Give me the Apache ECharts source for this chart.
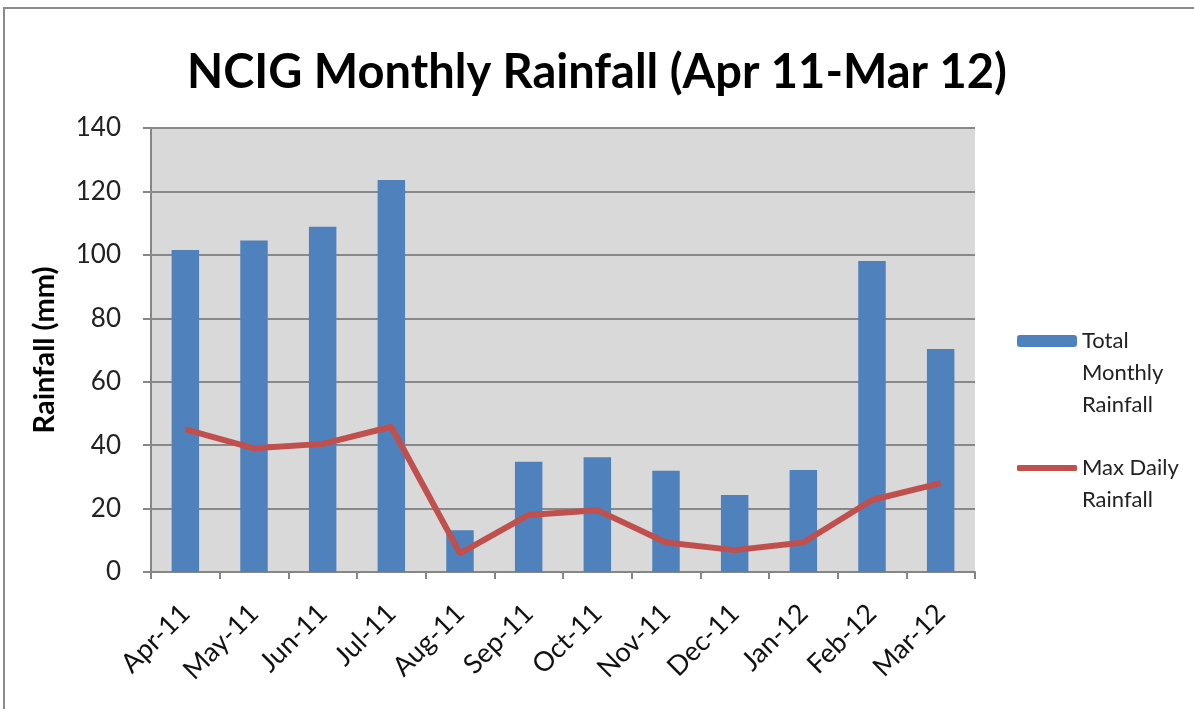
<!DOCTYPE html>
<html lang="en">
<head>
    <meta charset="UTF-8">
    <title>NCIG Monthly Rainfall</title>
    <style>
        * {
            margin: 0;
            padding: 0;
        }
        html, body {
            background: #fff;
        }
        .mychart {
            width: 1194px;
            height: 709px;
        }
    </style>
</head>
<body>
    <div class="mychart"></div>
</body>
<script src="https://cdn.jsdelivr.net/npm/echarts@6/dist/echarts.min.js"></script>
<script>
    // data
    const months = ['Apr-11', 'May-11', 'Jun-11', 'Jul-11', 'Aug-11', 'Sep-11',
        'Oct-11', 'Nov-11', 'Dec-11', 'Jan-12', 'Feb-12', 'Mar-12']
    const totalMonthly = [101.5, 104.5, 108.9, 123.6, 13.2, 34.8, 36.2, 31.9, 24.3, 32.2, 98.1, 70.3]
    const maxDaily = [45, 39, 40.4, 45.8, 5.9, 18, 19.5, 9.3, 6.9, 9.3, 22.7, 28]
    const yTicks = [0, 20, 40, 60, 80, 100, 120, 140]

    const fontFamily = 'Lato, "Open Sans", sans-serif'
    const legendLine = 32

    const myChart = echarts.init(document.querySelector('.mychart'))

    // leading blank lines keep the first text line level with the legend icon
    const legendText = {
        'Total Monthly Rainfall': '\n\nTotal\nMonthly\nRainfall',
        'Max Daily Rainfall': '\nMax Daily\nRainfall'
    }

    const config = {
        animation: false,
        textStyle: { fontFamily: fontFamily },
        title: {
            text: 'NCIG Monthly Rainfall (Apr 11-Mar 12)',
            left: 'center',
            top: 44,
            textStyle: {
                fontSize: 47,
                fontWeight: 'bold',
                color: '#000',
                fontFamily: fontFamily
            }
        },
        graphic: [{
            type: 'rect',
            shape: { x: 4, y: 8, width: 1400, height: 900 },
            style: { fill: 'none', stroke: '#8a8a8a', lineWidth: 2 },
            silent: true
        }],
        legend: [{
            orient: 'vertical',
            left: 1012,
            top: 336 - legendLine * 2.5,
            itemWidth: 60,
            itemHeight: 12,
            data: ['Total Monthly Rainfall'],
            formatter: name => legendText[name],
            textStyle: { fontSize: 22, lineHeight: legendLine, color: '#222' }
        }, {
            orient: 'vertical',
            left: 1012,
            top: 463 - legendLine * 1.5,
            itemWidth: 60,
            itemHeight: 6,
            data: [{ name: 'Max Daily Rainfall', icon: 'roundRect' }],
            formatter: name => legendText[name],
            textStyle: { fontSize: 22, lineHeight: legendLine, color: '#222' }
        }],
        grid: {
            left: 151,
            top: 128,
            right: 219,
            bottom: 137,
            show: true,
            backgroundColor: '#d9d9d9',
            borderWidth: 0
        },
        xAxis: {
            type: 'category',
            data: months,
            axisLine: { lineStyle: { color: '#868686', width: 2 } },
            axisTick: { show: true, length: 7, lineStyle: { color: '#868686', width: 2 } },
            axisLabel: {
                rotate: 45,
                fontSize: 27,
                color: '#111',
                margin: 37
            }
        },
        yAxis: {
            type: 'value',
            min: 0,
            max: 140,
            interval: 20,
            name: 'Rainfall (mm)',
            nameLocation: 'middle',
            nameGap: 92,
            nameTextStyle: { fontSize: 29, fontWeight: 'bold', color: '#000' },
            axisLine: { show: true, lineStyle: { color: '#868686', width: 2 } },
            axisTick: { show: true, length: 8, lineStyle: { color: '#868686', width: 2 } },
            splitLine: { lineStyle: { color: '#888', width: 2 } },
            axisLabel: {
                fontSize: 26,
                color: '#222',
                margin: 30,
                formatter: v => yTicks.includes(v) ? String(v) : ''
            }
        },
        series: [{
            name: 'Total Monthly Rainfall',
            type: 'bar',
            data: totalMonthly,
            barWidth: '40%',
            itemStyle: { color: '#4f81bd' }
        }, {
            name: 'Max Daily Rainfall',
            type: 'line',
            data: maxDaily,
            symbol: 'none',
            lineStyle: { color: '#c0504d', width: 6 },
            itemStyle: { color: '#c0504d' }
        }]
    }

    myChart.setOption(config)
</script>
</html>
